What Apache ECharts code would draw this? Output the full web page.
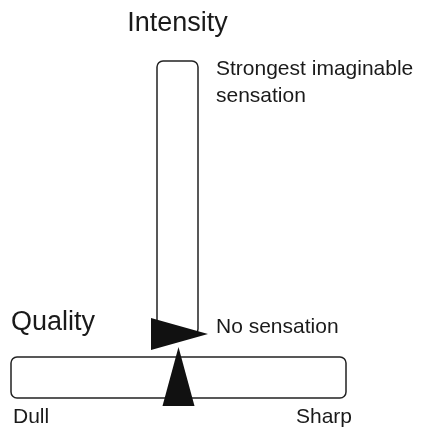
<!DOCTYPE html>
<html>
<head>
<meta charset="utf-8">
<script src="https://cdn.jsdelivr.net/npm/echarts@6/dist/echarts.min.js"></script>
<style>
  html, body { margin: 0; padding: 0; background: #fff; }
  #chart { width: 422px; height: 428px; }
</style>
</head>
<body>
<div id="chart"></div>
<script>
// scale ends and their anchor labels
const intensityTicks = [0, 1]
const intensityLabels = ['No sensation', 'Strongest imaginable\nsensation']
const qualityTicks = [0, 1]
const qualityLabels = ['Dull', 'Sharp']

// ratings marked by the pointers
const intensityRating = [0]
const qualityRating = [0.5]

const FONT = "'Liberation Sans', Arial, Helvetica, sans-serif"
const INK = '#1a1a1a'
const LINE = '#222'

const chart = echarts.init(document.getElementById('chart'))

// rounded scale frame, drawn from the axis ends
function frameItem(horizontal) {
  return function (params, api) {
    const a = api.coord([0, 0])
    const b = api.coord([1, 1])
    const cs = params.coordSys
    let x, y, w, h
    if (horizontal) {
      x = a[0]; w = b[0] - a[0]; y = cs.y; h = cs.height
    } else {
      // bottom end sits under the pointer
      x = cs.x; w = cs.width; y = b[1]; h = a[1] - b[1] + 1
    }
    return {
      type: 'rect',
      shape: { x: x, y: y, width: w, height: h, r: 6 },
      style: { fill: '#fff', stroke: LINE, lineWidth: 1.5 }
    }
  }
}

function intensityPointer(params, api) {
  const cs = params.coordSys
  const p = api.coord([0, api.value(1)])
  const tipX = cs.x + cs.width + 10
  const baseX = cs.x - 6
  return {
    type: 'polygon',
    shape: { points: [[baseX, p[1] - 16], [tipX, p[1]], [baseX, p[1] + 16]] },
    style: { fill: '#111' }
  }
}

function qualityPointer(params, api) {
  const cs = params.coordSys
  const p = api.coord([api.value(0), 0])
  const tipY = cs.y - 10
  const baseY = cs.y + cs.height + 8
  return {
    type: 'polygon',
    shape: { points: [[p[0] - 16, baseY], [p[0], tipY], [p[0] + 16, baseY]] },
    style: { fill: '#111' }
  }
}

function intensityLabel(params, api) {
  const cs = params.coordSys
  const v = api.value(1)
  const p = api.coord([0, v])
  const top = v === 1
  return {
    type: 'text',
    x: cs.x + cs.width + 18,
    y: top ? p[1] - 5 : p[1] - 7,
    style: {
      text: intensityLabels[params.dataIndex],
      font: '21px ' + FONT,
      lineHeight: 27,
      fill: INK,
      align: 'left',
      verticalAlign: top ? 'top' : 'middle'
    }
  }
}

function qualityLabel(params, api) {
  const cs = params.coordSys
  const v = api.value(0)
  const p = api.coord([v, 0])
  const right = v === 1
  return {
    type: 'text',
    x: right ? p[0] + 6 : p[0] + 2,
    y: cs.y + cs.height + 19,
    style: {
      text: qualityLabels[params.dataIndex],
      font: '21px ' + FONT,
      fill: INK,
      align: right ? 'right' : 'left',
      verticalAlign: 'middle'
    }
  }
}

function scaleName(name, horizontal) {
  return function (params) {
    const cs = params.coordSys
    return {
      type: 'text',
      x: horizontal ? cs.x : cs.x + cs.width / 2,
      y: horizontal ? cs.y - 34 : cs.y - 37,
      style: {
        text: name,
        font: '27px ' + FONT,
        fill: INK,
        align: horizontal ? 'left' : 'center',
        verticalAlign: 'middle'
      }
    }
  }
}

chart.setOption({
  animation: false,
  grid: [
    { left: 157, top: 61, width: 41, height: 273 },
    { left: 11, top: 357, width: 335, height: 41 }
  ],
  xAxis: [
    { gridIndex: 0, type: 'value', min: 0, max: 1, show: false },
    { gridIndex: 1, type: 'value', min: 0, max: 1, show: false }
  ],
  yAxis: [
    { gridIndex: 0, type: 'value', min: 0, max: 1, show: false },
    { gridIndex: 1, type: 'value', min: 0, max: 1, show: false }
  ],
  series: [
    { type: 'custom', xAxisIndex: 0, yAxisIndex: 0, renderItem: frameItem(false), data: [[0, 0]], silent: true },
    { type: 'custom', xAxisIndex: 0, yAxisIndex: 0, renderItem: intensityLabel,
      data: intensityTicks.map(v => [0, v]), silent: true },
    { type: 'custom', xAxisIndex: 0, yAxisIndex: 0, renderItem: scaleName('Intensity', false), data: [[0, 0]], silent: true },
    { type: 'custom', xAxisIndex: 0, yAxisIndex: 0, renderItem: intensityPointer,
      data: intensityRating.map(v => [0, v]), silent: true, z: 3 },
    { type: 'custom', xAxisIndex: 1, yAxisIndex: 1, renderItem: frameItem(true), data: [[0, 0]], silent: true },
    { type: 'custom', xAxisIndex: 1, yAxisIndex: 1, renderItem: qualityLabel,
      data: qualityTicks.map(v => [v, 0]), silent: true },
    { type: 'custom', xAxisIndex: 1, yAxisIndex: 1, renderItem: scaleName('Quality', true), data: [[0, 0]], silent: true },
    { type: 'custom', xAxisIndex: 1, yAxisIndex: 1, renderItem: qualityPointer,
      data: qualityRating.map(v => [v, 0]), silent: true, z: 4 }
  ]
})
</script>
</body>
</html>
